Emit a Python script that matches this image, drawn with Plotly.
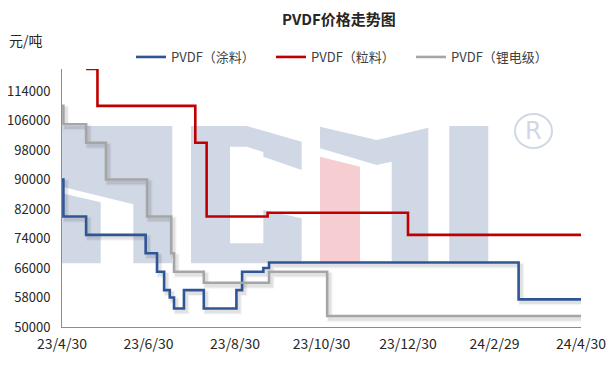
import plotly.graph_objects as go
import pandas as pd

# ---------------- data ----------------
blue_name = "PVDF（涂料）"
blue_dates = ["2023-04-30", "2023-05-01", "2023-05-17", "2023-06-28", "2023-07-06", "2023-07-11",
              "2023-07-15", "2023-07-18", "2023-07-25", "2023-08-08", "2023-08-31", "2023-09-04",
              "2023-09-19", "2023-09-23", "2024-03-17", "2024-04-30"]
blue_vals = [90000, 80000, 75000, 70000, 65000, 60000, 58000, 55000, 60000, 55000, 60000, 65000,
             66000, 67500, 57500, 57500]

red_name = "PVDF（粒料）"
red_dates = ["2023-05-17", "2023-05-25", "2023-08-02", "2023-08-10", "2023-09-22", "2023-12-30", "2024-04-30"]
red_vals = [120000, 110000, 100000, 80000, 81000, 75000, 75000]

gray_name = "PVDF（锂电级）"
gray_dates = ["2023-04-30", "2023-05-01", "2023-05-17", "2023-05-31", "2023-06-29", "2023-07-16",
              "2023-07-18", "2023-08-08", "2023-09-23", "2023-11-03", "2024-04-30"]
gray_vals = [110000, 105000, 100000, 90000, 80000, 70000, 65000, 62000, 65000, 53000, 53000]

x_tickvals = ["2023-04-30", "2023-06-30", "2023-08-30", "2023-10-30", "2023-12-30", "2024-02-29", "2024-04-30"]
x_ticktext = ["23/4/30", "23/6/30", "23/8/30", "23/10/30", "23/12/30", "24/2/29", "24/4/30"]
y_tickvals = [50000, 58000, 66000, 74000, 82000, 90000, 98000, 106000, 114000]

title_text = "PVDF价格走势图"
unit_text = "元/吨"

# ---------------- layout geometry ----------------
W, H = 615, 378
L, R, T, B = 62, 581, 69, 327          # plot area in pixels
PW, PH = R - L, B - T
Y0, Y1 = 50000, 120000
X0, X1 = "2023-04-30", "2024-04-30"
FONT = "Noto Sans CJK SC"

def px(x, y):
    return (x - L) / PW, (B - y) / PH

def path(points):
    s = ""
    for i, (x, y) in enumerate(points):
        xp, yp = px(x, y)
        s += ("M" if i == 0 else "L") + f"{xp:.4f},{yp:.4f} "
    return s + "Z"

WM = "#D0D8E5"
WM_PINK = "#F6CDD0"
shapes = []
def poly(points, color):
    shapes.append(dict(type="path", path=path(points), xref="paper", yref="paper",
                       fillcolor=color, line=dict(width=0), layer="below"))

# watermark letter 1
poly([(62, 126), (172.3, 126), (172.3, 263.3), (133.3, 263.3), (133.3, 204.3), (62, 186.7)], WM)
poly([(62, 126), (133.3, 126), (133.3, 146.7), (100.7, 146.7), (100.7, 181.7), (133.3, 191), (62, 186.7)], WM)
poly([(62, 193.3), (100.7, 202.3), (100.7, 263.3), (62, 263.3)], WM)
# letter 2
poly([(191, 126), (246.7, 126), (301.7, 141.7), (301.7, 170), (263.3, 156.7), (263.3, 152),
      (246.7, 146.7), (230, 146.7), (230, 243.3), (263.3, 243.3), (263.3, 210), (301.7, 218.3),
      (301.7, 263.3), (191, 263.3)], WM)
# letter 3
poly([(320, 126.7), (376.7, 140), (428.3, 127.7), (428.3, 263.3), (391.7, 263.3), (391.7, 161.7),
      (376.7, 165), (320, 148.3)], WM)
poly([(320, 156.7), (360, 166.7), (360, 263.3), (320, 263.3)], WM_PINK)
# letter 4
poly([(449.3, 126), (488.3, 126), (488.3, 263.3), (449.3, 263.3)], WM)
# registered mark circle
cx0, cy0 = px(515, 148)
cx1, cy1 = px(552, 114)
shapes.append(dict(type="circle", xref="paper", yref="paper", x0=cx0, y0=cy0, x1=cx1, y1=cy1,
                   line=dict(color=WM, width=2), layer="below"))

# ---------------- figure ----------------
fig = go.Figure()

# soft shadows on shifted base axes
for d, v in [(blue_dates, blue_vals), (gray_dates, gray_vals)]:
    for w, a in [(6, 0.04), (3.5, 0.08)]:
        fig.add_trace(go.Scatter(x=d, y=v, mode="lines", line=dict(shape="hv", width=w,
                                 color=f"rgba(0,0,0,{a})"), showlegend=False, hoverinfo="skip",
                                 xaxis="x", yaxis="y"))

fig.add_trace(go.Scatter(x=blue_dates, y=blue_vals, name=blue_name, mode="lines",
                         line=dict(shape="hv", width=2.6, color="#2F5597"), xaxis="x2", yaxis="y2"))
fig.add_trace(go.Scatter(x=red_dates, y=red_vals, name=red_name, mode="lines",
                         line=dict(shape="hv", width=2.6, color="#C00000"), xaxis="x2", yaxis="y2"))
fig.add_trace(go.Scatter(x=gray_dates, y=gray_vals, name=gray_name, mode="lines",
                         line=dict(shape="hv", width=2.6, color="#A5A5A5"), xaxis="x2", yaxis="y2"))

# shadow offset: ~2.5 px right, ~3 px down
days_per_px = (pd.Timestamp(X1) - pd.Timestamp(X0)).days / PW
val_per_px = (Y1 - Y0) / PH
sx0 = (pd.Timestamp(X0) - pd.Timedelta(days=2.5 * days_per_px)).strftime("%Y-%m-%d %H:%M")
sx1 = (pd.Timestamp(X1) - pd.Timedelta(days=2.5 * days_per_px)).strftime("%Y-%m-%d %H:%M")

fig.update_layout(
    width=W, height=H,
    margin=dict(l=L, r=W - R, t=T, b=H - B, pad=0, autoexpand=False),
    paper_bgcolor="white", plot_bgcolor="rgba(0,0,0,0)",
    font=dict(family=FONT, size=13, color="#404040"),
    shapes=shapes,
    showlegend=True,
    legend=dict(orientation="h", xref="container", yref="container", x=131 / W, xanchor="left",
                y=1 - 57 / H, yanchor="middle",
                font=dict(size=13, color="#404040"), entrywidth=95, entrywidthmode="pixels",
                bgcolor="rgba(0,0,0,0)"),
    xaxis=dict(visible=False, type="date", range=[sx0, sx1]),
    yaxis=dict(visible=False, range=[Y0 + 3 * val_per_px, Y1 + 3 * val_per_px]),
    xaxis2=dict(overlaying="x", type="date", range=[X0, X1], tickvals=x_tickvals, ticktext=x_ticktext,
                showgrid=False, zeroline=False, showline=True, linecolor="#8C8C8C", linewidth=1,
                ticks="", tickfont=dict(size=14, color="#262626"), side="bottom", anchor="y2",
                ticklabelstandoff=4),
    yaxis2=dict(overlaying="y", range=[Y0, Y1], tickvals=y_tickvals, showgrid=False, zeroline=False,
                showline=True, linecolor="#8C8C8C", linewidth=1, ticks="", tickformat="d",
                tickfont=dict(size=13, color="#262626"), side="left", anchor="x2",
                ticklabelstandoff=8),
    annotations=[
        dict(text="<b>" + title_text + "</b>", xref="paper", yref="paper", x=(339 - L) / PW, y=(327 - 18) / PH,
             xanchor="center", yanchor="middle", showarrow=False, font=dict(size=15, color="#262626")),
        dict(text=unit_text, xref="paper", yref="paper", x=(7 - L) / PW, y=(327 - 40) / PH,
             xanchor="left", yanchor="middle", showarrow=False, font=dict(size=14, color="#262626")),
        dict(text="R", xref="paper", yref="paper", x=(533.5 - L) / PW, y=(327 - 131) / PH,
             xanchor="center", yanchor="middle", showarrow=False,
             font=dict(family="DejaVu Sans", size=24, color=WM)),
    ],
)

fig.write_html("out.html", config={"displayModeBar": False},
               post_script="document.body.style.margin='0px';document.body.style.overflow='hidden';")
